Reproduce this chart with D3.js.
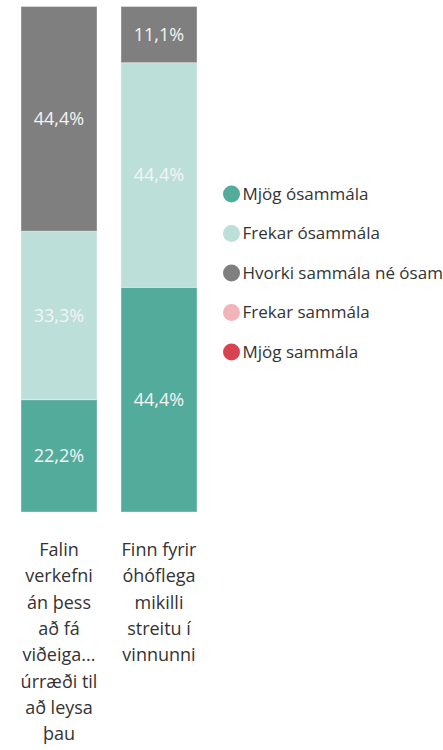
<!DOCTYPE html>
<html>
<head>
<meta charset="utf-8">
<title>Stacked bars</title>
<script src="https://cdn.jsdelivr.net/npm/d3@7"></script>
<style>
    body { margin: 0; background: #fff; }
    svg { display: block; font-family: "Open Sans", "Noto Sans", sans-serif; }
    .seg-label { fill: #f4f4f4; font-size: 18px; text-anchor: middle; }
    .legend text { fill: #333; font-size: 17px; }
    .cat text { fill: #333; font-size: 18px; text-anchor: middle; }
</style>
</head>
<body>
<div id="chart"></div>
<script>

    // categories (wrapped lines as shown under the bars)
    var categories = ["Falin verkefni", "Finn fyrir"];
    var categoryLines = [
        ["Falin", "verkefni", "án þess", "að fá", "viðeiga...", "úrræði til", "að leysa", "þau"],
        ["Finn fyrir", "óhóflega", "mikilli", "streitu í", "vinnunni"]
    ];

    // series, bottom to top
    var seriesNames = ["Mjög ósammála", "Frekar ósammála", "Hvorki sammála né ósammála", "Frekar sammála", "Mjög sammála"];
    var seriesColors = ["#53ab9c", "#bcdfda", "#7f7f7f", "#f0b4ba", "#d9434f"];

    var mjogOsammala   = [22.2, 44.4];
    var frekarOsammala = [33.3, 44.4];
    var hvorki         = [44.4, 11.1];
    var frekarSammala  = [0, 0];
    var mjogSammala    = [0, 0];

    var seriesValues = [mjogOsammala, frekarOsammala, hvorki, frekarSammala, mjogSammala];

    var width = 443, height = 750;

    var svg = d3.select("#chart").append("svg")
        .attr("width", width)
        .attr("height", height);

    var rows = categories.map(function(c, i) {
        var r = { cat: c };
        seriesNames.forEach(function(s, j) { r[s] = seriesValues[j][i]; });
        return r;
    });

    var stack = d3.stack().keys(seriesNames);
    var stacked = stack(rows);

    var x = d3.scaleBand()
        .domain(categories)
        .range([9, 209])
        .paddingInner(0.24)
        .paddingOuter(0.12);

    var y = d3.scaleLinear()
        .domain([0, 100])
        .range([512, 6]);

    var color = d3.scaleOrdinal().domain(seriesNames).range(seriesColors);

    var layers = svg.selectAll(".layer")
        .data(stacked)
        .enter().append("g")
        .attr("class", "layer")
        .attr("fill", function(d) { return color(d.key); });

    layers.selectAll("rect")
        .data(function(d) { return d; })
        .enter().append("rect")
        .attr("x", function(d) { return x(d.data.cat); })
        .attr("width", x.bandwidth())
        .attr("y", function(d) { return y(d[1]); })
        .attr("height", function(d) { return y(d[0]) - y(d[1]); })
        .attr("stroke", "rgba(255,255,255,0.35)")
        .attr("stroke-width", 1);

    layers.selectAll(".seg-label")
        .data(function(d) { return d.filter(function(p) { return p[1] - p[0] > 0; }); })
        .enter().append("text")
        .attr("class", "seg-label")
        .attr("x", function(d) { return x(d.data.cat) + x.bandwidth() / 2; })
        .attr("y", function(d) { return (y(d[0]) + y(d[1])) / 2; })
        .attr("dy", "0.35em")
        .text(function(d) { return d3.format(".1f")(d[1] - d[0]).replace(".", ",") + "%"; });

    // category labels under bars
    var cat = svg.selectAll(".cat")
        .data(categories)
        .enter().append("g")
        .attr("class", "cat")
        .attr("transform", function(d) { return "translate(" + (x(d) + x.bandwidth() / 2) + ",556)"; });

    cat.append("text")
        .selectAll("tspan")
        .data(function(d, i) { return categoryLines[i]; })
        .enter().append("tspan")
        .attr("x", 0)
        .attr("y", function(d, i) { return i * 26.3; })
        .text(function(d) { return d; });

    // legend
    var legend = svg.append("g")
        .attr("class", "legend")
        .attr("transform", "translate(231.5,194)");

    var item = legend.selectAll("g")
        .data(seriesNames)
        .enter().append("g")
        .attr("transform", function(d, i) { return "translate(0," + (i * 39.5) + ")"; });

    item.append("circle")
        .attr("r", 8.5)
        .attr("fill", function(d) { return color(d); });

    item.append("text")
        .attr("x", 11)
        .attr("dy", "0.35em")
        .text(function(d) { return d; });

</script>
</body>
</html>
